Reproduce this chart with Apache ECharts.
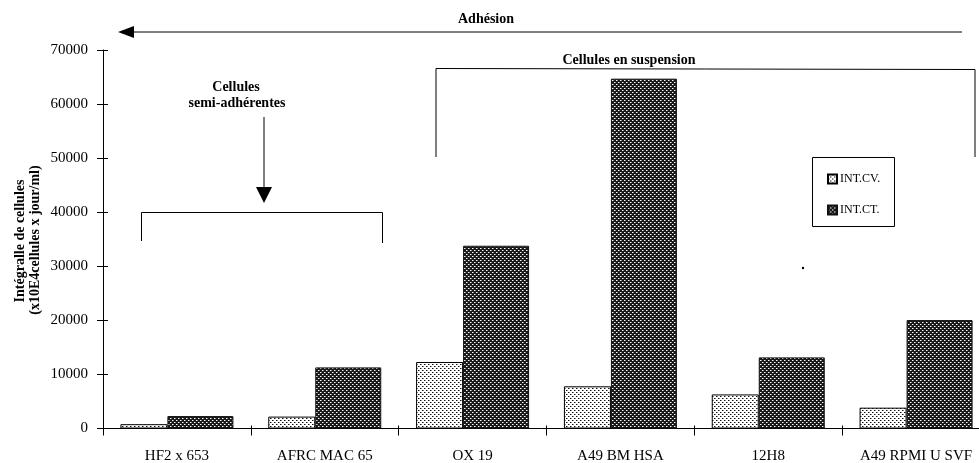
<!DOCTYPE html>
<html>
<head>
<meta charset="utf-8">
<script src="https://cdn.jsdelivr.net/npm/echarts@6/dist/echarts.min.js"></script>
<style>
html,body{margin:0;padding:0;background:#fff;}
#c{width:979px;height:463px;}
</style>
</head>
<body>
<div id="c"></div>
<script>
var categories = ['HF2 x 653', 'AFRC MAC 65', 'OX 19', 'A49 BM HSA', '12H8', 'A49 RPMI U SVF'];
var seriesNames = ['INT.CV.', 'INT.CT.'];
var intCV = [800, 2200, 12300, 7800, 6300, 3850];
var intCT = [2300, 11300, 33800, 64700, 13150, 20050];
var yTicks = [0, 10000, 20000, 30000, 40000, 50000, 60000, 70000];

function makePattern(bg, dots) {
  var c = document.createElement('canvas');
  c.width = 4; c.height = 4;
  var ctx = c.getContext('2d');
  ctx.fillStyle = bg; ctx.fillRect(0, 0, 4, 4);
  dots.forEach(function (d) { ctx.fillStyle = d[2]; ctx.fillRect(d[0], d[1], 1, 1); });
  return { image: c, repeat: 'repeat' };
}
var lightPat = makePattern('#ffffff', [[0, 0, '#111'], [2, 2, '#111'], [1, 0, '#8a8a8a'], [3, 2, '#8a8a8a']]);
var darkPat = makePattern('#1a1a1a', [[0, 0, '#ffffff'], [2, 2, '#ffffff'], [1, 0, '#888'], [3, 2, '#888']]);

var serif = '"Liberation Serif", "DejaVu Serif", serif';
var chart = echarts.init(document.getElementById('c'), null, { renderer: 'canvas' });

var option = {
  backgroundColor: '#ffffff',
  animation: false,
  grid: { left: 103, top: 50, width: 887, height: 378.5, outerBoundsMode: 'none', containLabel: false },
  xAxis: [{
    type: 'category',
    data: categories,
    axisLine: { lineStyle: { color: '#000', width: 1 } },
    axisTick: { show: true, length: 7, lineStyle: { color: '#000' } },
    axisLabel: { color: '#000', fontFamily: serif, fontSize: 15, margin: 20 }
  }, {
    type: 'category',
    data: categories,
    position: 'bottom',
    axisLine: { show: false },
    axisTick: { show: true, inside: true, length: 3, lineStyle: { color: '#000' } },
    axisLabel: { show: false }
  }],
  yAxis: [{
    type: 'value',
    min: 0, max: 70000, interval: 10000,
    splitLine: { show: false },
    axisLine: { show: true, lineStyle: { color: '#000', width: 1 } },
    axisTick: { show: true, length: 6, lineStyle: { color: '#000' } },
    axisLabel: {
      color: '#000', fontFamily: serif, fontSize: 15, margin: 15,
      formatter: function (v) { return yTicks.indexOf(v) >= 0 ? String(v) : ''; }
    }
  }, {
    type: 'value',
    min: 0, max: 70000, interval: 10000,
    position: 'left',
    splitLine: { show: false },
    axisLine: { show: false },
    axisTick: { show: true, inside: true, length: 5, lineStyle: { color: '#000' } },
    axisLabel: { show: false }
  }],
  legend: {
    orient: 'vertical',
    left: 822, top: 167,
    itemWidth: 9, itemHeight: 9, itemGap: 17,
    icon: 'rect',
    data: seriesNames,
    textStyle: { color: '#000', fontFamily: serif, fontSize: 12, lineHeight: 14, padding: [0, 0, 0, -2] }
  },
  series: [{
    name: seriesNames[0],
    type: 'bar',
    data: intCV,
    barWidth: 47,
    barGap: '0%',
    itemStyle: { color: lightPat, borderColor: '#000', borderWidth: 1 }
  }, {
    name: seriesNames[1],
    type: 'bar',
    data: intCT,
    barWidth: 66,
    barGap: '0%',
    itemStyle: { color: darkPat, borderColor: '#111', borderWidth: 1 }
  }],
  graphic: [
    { type: 'text', x: 20, y: 241, rotation: Math.PI / 2,
      style: { text: 'Intégralle de cellules', fill: '#000', font: 'bold 14px ' + serif, textAlign: 'center', textVerticalAlign: 'middle' } },
    { type: 'text', x: 35, y: 240, rotation: Math.PI / 2,
      style: { text: '(x10E4cellules x jour/ml)', fill: '#000', font: 'bold 14px ' + serif, textAlign: 'center', textVerticalAlign: 'middle' } },
    { type: 'text', x: 486, y: 19,
      style: { text: 'Adhésion', fill: '#000', font: 'bold 14px ' + serif, textAlign: 'center', textVerticalAlign: 'middle' } },
    { type: 'line', shape: { x1: 130, y1: 32, x2: 962, y2: 32 }, style: { stroke: '#000', lineWidth: 1 } },
    { type: 'polygon', shape: { points: [[118, 32], [134, 26], [134, 38]] }, style: { fill: '#000' } },
    { type: 'text', x: 629, y: 60,
      style: { text: 'Cellules en suspension', fill: '#000', font: 'bold 14px ' + serif, textAlign: 'center', textVerticalAlign: 'middle' } },
    { type: 'polyline', shape: { points: [[436, 157], [436, 68.5], [975, 69.5], [975, 157]] }, style: { stroke: '#000', lineWidth: 1, fill: null } },
    { type: 'text', x: 236, y: 87,
      style: { text: 'Cellules', fill: '#000', font: 'bold 14px ' + serif, textAlign: 'center', textVerticalAlign: 'middle' } },
    { type: 'text', x: 237, y: 103,
      style: { text: 'semi-adhérentes', fill: '#000', font: 'bold 14px ' + serif, textAlign: 'center', textVerticalAlign: 'middle' } },
    { type: 'line', shape: { x1: 264, y1: 117, x2: 264, y2: 188 }, style: { stroke: '#000', lineWidth: 1 } },
    { type: 'polygon', shape: { points: [[256, 187], [272, 187], [264, 203]] }, style: { fill: '#000' } },
    { type: 'polyline', shape: { points: [[141.5, 241], [141.5, 212.5], [382.5, 212.5], [382.5, 243]] }, style: { stroke: '#000', lineWidth: 1, fill: null } },
    { type: 'rect', shape: { x: 812.5, y: 157.5, width: 82, height: 69 }, style: { stroke: '#000', lineWidth: 1, fill: null }, z: -1 },
    { type: 'circle', shape: { cx: 803, cy: 268, r: 1.2 }, style: { fill: '#000' } }
  ]
};
chart.setOption(option);
</script>
</body>
</html>
